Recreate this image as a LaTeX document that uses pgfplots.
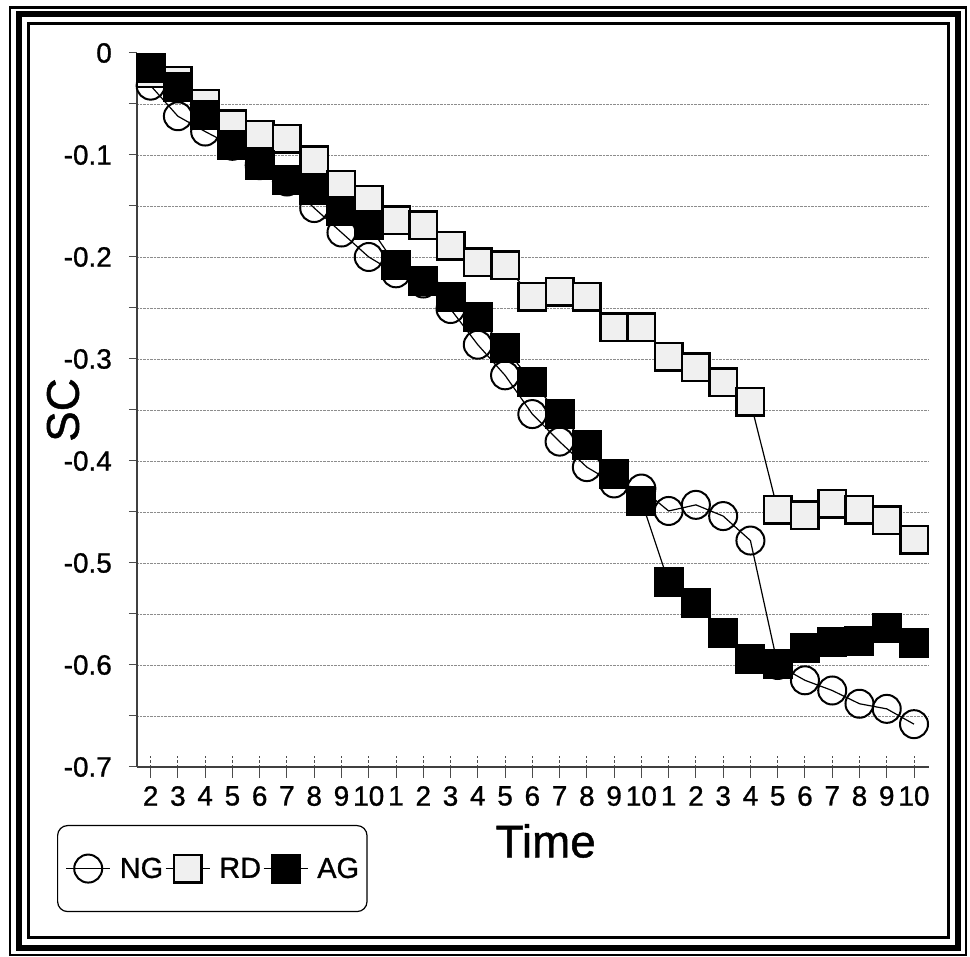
\documentclass[border=0pt]{standalone}
\usepackage{fontspec}
\setmainfont{Liberation Sans}[FakeBold=1]
\usepackage{pgfplots}
\pgfplotsset{compat=1.18}
\begin{document}
\begin{tikzpicture}
\useasboundingbox (0bp,0bp) rectangle (970bp,957bp);
\draw[line width=2.5bp] (10bp,2bp) rectangle (966bp,949.5bp);
\draw[line width=6bp] (18.5bp,8.5bp) rectangle (957.5bp,942.5bp);
\draw[line width=3bp] (28.5bp,19bp) rectangle (948bp,933.5bp);
\begin{axis}[
  at={(137bp,190bp)}, anchor=south west,
  scale only axis, width=792bp, height=714bp,
  xmin=0.5, xmax=29.55, ymin=-0.7, ymax=0,
  axis x line*=bottom, axis y line*=left,
  axis line style={line width=1.5bp, black!75},
  clip=false,
  xtick={1,...,29},
  xticklabels={2,3,4,5,6,7,8,9,10,1,2,3,4,5,6,7,8,9,10,1,2,3,4,5,6,7,8,9,10},
  minor xtick={1,...,29},
  ytick={-0.7,-0.65,-0.6,-0.55,-0.5,-0.45,-0.4,-0.35,-0.3,-0.25,-0.2,-0.15,-0.1,-0.05},
  yticklabels={-0.7,,-0.6,,-0.5,,-0.4,,-0.3,,-0.2,,-0.1,},
  extra y ticks={0}, extra y tick labels={0},
  extra y tick style={grid=none},
  tick align=outside, major tick length=8bp, minor tick length=21bp,
  tick style={black!70, line width=1bp},
  x tick style={densely dashed},
  minor x tick style={yshift=10.5bp},
  ymajorgrids, grid style={densely dotted, black!45, line width=0.8bp},
  xticklabel style={inner sep=0pt, anchor=north, yshift=-11bp, font=\fontsize{28}{30}\selectfont},
  yticklabel style={inner sep=0pt, anchor=east, xshift=-17bp, font=\fontsize{28}{30}\selectfont},
  xlabel={Time}, ylabel={SC},
  every axis x label/.style={at={(axis description cs:0.516,-0.1036)}, anchor=center, font=\fontsize{46}{50}\selectfont},
  every axis y label/.style={at={(axis description cs:-0.0934,0.5)}, anchor=center, rotate=90, font=\fontsize{46}{50}\selectfont},
  legend columns=3,
  legend style={at={(axis description cs:-0.101,-0.0812)}, anchor=north west,
    draw=black, line width=1.2bp, rounded corners=10bp,
    inner xsep=8bp, inner ysep=28.5bp,
    font=\fontsize{29}{32}\selectfont,
    nodes={inner sep=0pt, sharp corners},
    /tikz/every odd column/.append style={column sep=9bp},
    /tikz/every even column/.append style={column sep=2bp}},
  legend image code/.code={\draw[sharp corners, mark repeat=2, mark phase=2, #1] plot coordinates {(0bp,0bp) (22bp,0bp) (44bp,0bp)};},
]
\addplot[black, line width=1.2bp, mark=o, mark size=14bp,
  mark options={solid, line width=2bp, draw=black, fill=none, sharp corners}]
coordinates {(1,-0.032)(2,-0.062)(3,-0.077)(4,-0.091)(5,-0.110)(6,-0.126)(7,-0.152)(8,-0.176)(9,-0.200)(10,-0.216)(11,-0.226)(12,-0.251)(13,-0.286)(14,-0.316)(15,-0.354)(16,-0.381)(17,-0.406)(18,-0.422)(19,-0.427)(20,-0.449)(21,-0.443)(22,-0.454)(23,-0.478)(24,-0.600)(25,-0.615)(26,-0.625)(27,-0.638)(28,-0.643)(29,-0.658)};
\addlegendentry{NG}
\addplot[black, line width=1.2bp, mark=square*, mark size=13.75bp,
  mark options={solid, line width=2.5bp, draw=black, fill=gray!12, sharp corners}]
coordinates {(1,-0.020)(2,-0.027)(3,-0.050)(4,-0.070)(5,-0.080)(6,-0.084)(7,-0.105)(8,-0.129)(9,-0.144)(10,-0.164)(11,-0.169)(12,-0.189)(13,-0.205)(14,-0.208)(15,-0.239)(16,-0.234)(17,-0.239)(18,-0.269)(19,-0.269)(20,-0.298)(21,-0.308)(22,-0.323)(23,-0.342)(24,-0.448)(25,-0.453)(26,-0.442)(27,-0.448)(28,-0.458)(29,-0.477)};
\addlegendentry{RD}
\addplot[black, line width=1.2bp, mark=square*, mark size=14.5bp,
  mark options={solid, line width=1bp, draw=black, fill=black, sharp corners}]
coordinates {(1,-0.015)(2,-0.033)(3,-0.061)(4,-0.090)(5,-0.110)(6,-0.125)(7,-0.134)(8,-0.155)(9,-0.169)(10,-0.208)(11,-0.224)(12,-0.239)(13,-0.259)(14,-0.289)(15,-0.323)(16,-0.354)(17,-0.384)(18,-0.413)(19,-0.439)(20,-0.519)(21,-0.539)(22,-0.569)(23,-0.594)(24,-0.599)(25,-0.583)(26,-0.577)(27,-0.576)(28,-0.564)(29,-0.578)};
\addlegendentry{AG}
\end{axis}
\end{tikzpicture}
\end{document}
